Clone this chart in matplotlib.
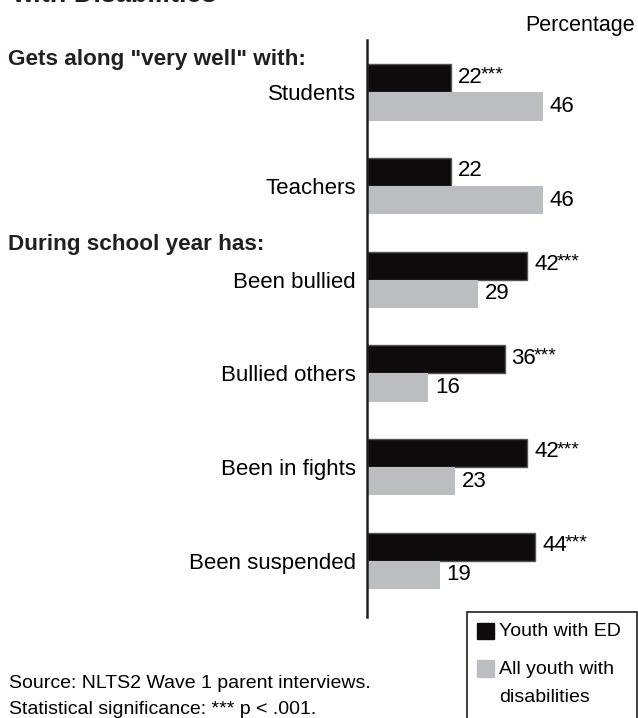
import numpy as np
import matplotlib
matplotlib.use('Agg')
import matplotlib.pyplot as plt
from matplotlib.patches import Rectangle

plt.rcParams['font.family'] = ['Liberation Sans Narrow', 'Liberation Sans', 'DejaVu Sans']

categories = ['Students', 'Teachers', 'Been bullied', 'Bullied others',
              'Been in fights', 'Been suspended']
youth_ed = [22, 22, 42, 36, 42, 44]
all_youth = [46, 46, 29, 16, 23, 19]
signif = ['***', '', '***', '***', '***', '***']

W, H = 638, 718
fig = plt.figure(figsize=(W / 100, H / 100), dpi=100)

# axis spine at x=367px, running from y=40 to y=617 px
ax = fig.add_axes([367 / W, 1 - 617 / H, (W - 367) / W, (617 - 40) / H])
ax.set_xlim(0, (W - 367) / 3.82)
ax.set_ylim(5.6, -0.56)

y = np.arange(len(categories))
bh = 0.30
ax.barh(y - bh / 2, youth_ed, height=bh, color='#0d0b0c', edgecolor='#555555', lw=1)
ax.barh(y + bh / 2, all_youth, height=bh, color='#bcbdc1', edgecolor='none')

fs = 16
for i in range(len(categories)):
    t = ax.annotate(str(youth_ed[i]), xy=(youth_ed[i], y[i] - bh / 2),
                    xytext=(5, 1), textcoords='offset points',
                    va='center', ha='left', fontsize=fs)
    if signif[i]:
        ax.annotate(signif[i], xy=(1, 1), xycoords=t, xytext=(-1.5, 0),
                    textcoords='offset points', va='top', ha='left',
                    fontsize=14)
    ax.annotate(str(all_youth[i]), xy=(all_youth[i], y[i] + bh / 2),
                xytext=(5, 0), textcoords='offset points',
                va='center', ha='left', fontsize=fs)

ax.set_yticks(y)
ax.set_yticklabels(categories, fontsize=fs)
ax.tick_params(axis='y', length=0, pad=8)
ax.set_xticks([])
for s in ['top', 'right', 'bottom']:
    ax.spines[s].set_visible(False)
ax.spines['left'].set_linewidth(1.8)
ax.spines['left'].set_color('#231f20')

# titles and notes (title is cut off at the top edge, as in the source)
fig.text(12 / W, 1 - 2 / H, 'with Disabilities', fontsize=19.5, fontweight='bold',
         va='baseline', ha='left', color='#231f20')
fig.text(635 / W, 1 - 26 / H, 'Percentage', fontsize=15.5, ha='right', va='center')
fig.text(8 / W, 1 - 60 / H, 'Gets along "very well" with:', fontsize=16.2,
         fontweight='bold', ha='left', va='center', color='#231f20')
fig.text(8 / W, 1 - 245 / H, 'During school year has:', fontsize=16.2,
         fontweight='bold', ha='left', va='center', color='#231f20')
fig.text(9 / W, 1 - 683 / H, 'Source: NLTS2 Wave 1 parent interviews.',
         fontsize=14, ha='left', va='center')
fig.text(9 / W, 1 - 709 / H, 'Statistical significance: *** p < .001.',
         fontsize=14, ha='left', va='center')

# legend box
fig.patches.append(Rectangle((467 / W, -0.01), (W - 467) / W - 0.0015, 1 - 612 / H + 0.01,
                             transform=fig.transFigure, fill=False,
                             edgecolor='#231f20', lw=1.2))
fig.patches.append(Rectangle((477 / W, 1 - 639 / H), 17 / W, 16 / H,
                             transform=fig.transFigure, color='#0d0b0c'))
fig.patches.append(Rectangle((477 / W, 1 - 677 / H), 17 / W, 17 / H,
                             transform=fig.transFigure, color='#bcbdc1'))
fig.text(499 / W, 1 - 632 / H, 'Youth with ED', fontsize=14, ha='left', va='center')
fig.text(499 / W, 1 - 670 / H, 'All youth with', fontsize=14, ha='left', va='center')
fig.text(499 / W, 1 - 698 / H, 'disabilities', fontsize=14, ha='left', va='center')

fig.savefig('out.png', dpi=100)
